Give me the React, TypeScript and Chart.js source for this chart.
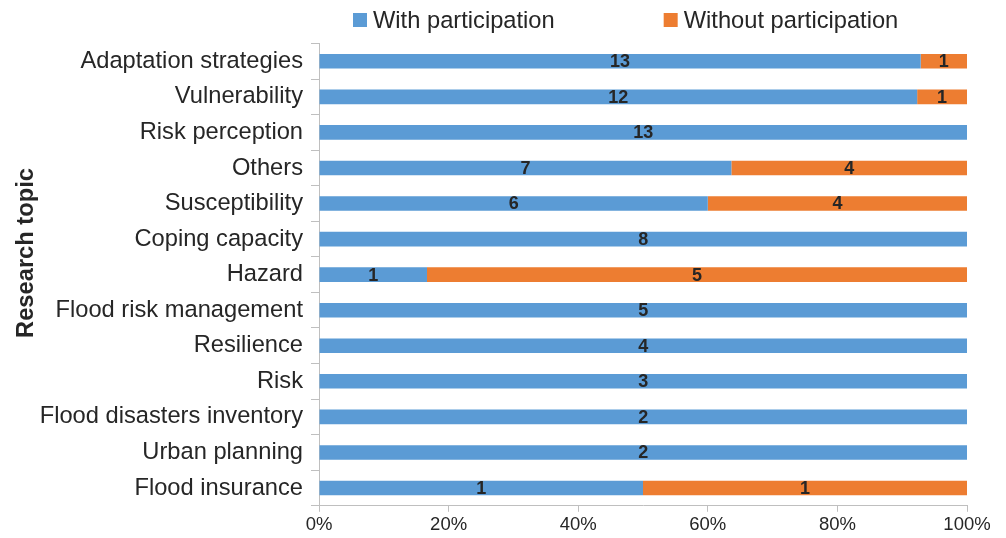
import { useEffect, useRef } from 'react';
import { Chart, registerables } from 'chart.js';

Chart.register(...registerables);

const categories = [
  'Adaptation strategies',
  'Vulnerability',
  'Risk perception',
  'Others',
  'Susceptibility',
  'Coping capacity',
  'Hazard',
  'Flood risk management',
  'Resilience',
  'Risk',
  'Flood disasters inventory',
  'Urban planning',
  'Flood insurance',
];
const withParticipation = [13, 12, 13, 7, 6, 8, 1, 5, 4, 3, 2, 2, 1];
const withoutParticipation = [1, 1, 0, 4, 4, 0, 5, 0, 0, 0, 0, 0, 1];
const seriesLabels = ['With participation', 'Without participation'];
const seriesColors = ['#5B9BD5', '#ED7D31'];
const xTicks = [0, 20, 40, 60, 80, 100];
const axisTitle = 'Research topic';

const FONT = "'Liberation Sans', Arial, Helvetica, sans-serif";
const TEXT = '#262626';
const AXIS = '#bfbfbf';

const totals = withParticipation.map((v, i) => v + withoutParticipation[i]);
const toPct = (arr: number[]) => arr.map((v, i) => (v / totals[i]) * 100);
const countsBySeries = [withParticipation, withoutParticipation];

const dataLabelPlugin = {
  id: 'dataLabels',
  afterDatasetsDraw(chart: any) {
    const ctx = chart.ctx;
    ctx.save();
    ctx.font = `bold 18px ${FONT}`;
    ctx.fillStyle = TEXT;
    ctx.textAlign = 'center';
    ctx.textBaseline = 'middle';
    chart.data.datasets.forEach((ds: any, di: number) => {
      const meta = chart.getDatasetMeta(di);
      meta.data.forEach((el: any, i: number) => {
        const count = countsBySeries[di][i];
        if (!count) return;
        const { x, base, y } = el.getProps(['x', 'base', 'y'], true);
        ctx.fillText(String(count), (x + base) / 2, y + 1);
      });
    });
    ctx.restore();
  },
};

const legendPlugin = {
  id: 'customLegend',
  afterDraw(chart: any) {
    const ctx = chart.ctx;
    const area = chart.chartArea;
    ctx.save();
    ctx.font = `23.7px ${FONT}`;
    ctx.textBaseline = 'middle';
    ctx.textAlign = 'left';
    let x = area.left + 34;
    const y = 20;
    chart.data.datasets.forEach((ds: any, i: number) => {
      ctx.fillStyle = ds.backgroundColor;
      ctx.fillRect(x, y - 7, 14, 14);
      ctx.fillStyle = TEXT;
      ctx.fillText(ds.label, x + 20, y + 1);
      x += 20 + ctx.measureText(ds.label).width + 109;
    });
    ctx.restore();
  },
};

const yTitlePlugin = {
  id: 'yTitle',
  afterDraw(chart: any) {
    const ctx = chart.ctx;
    ctx.save();
    ctx.font = `bold 23.7px ${FONT}`;
    ctx.fillStyle = TEXT;
    ctx.textAlign = 'center';
    ctx.textBaseline = 'middle';
    ctx.translate(26, 253);
    ctx.rotate(-Math.PI / 2);
    ctx.fillText(axisTitle, 0, 0);
    ctx.restore();
  },
};

export default function App() {
  const ref = useRef<HTMLCanvasElement>(null);
  useEffect(() => {
    document.body.style.margin = '0';
    const chart = new Chart(ref.current as HTMLCanvasElement, {
      type: 'bar',
      data: {
        labels: categories,
        datasets: [
          {
            label: seriesLabels[0],
            data: toPct(withParticipation),
            backgroundColor: seriesColors[0],
            categoryPercentage: 1,
            barPercentage: 0.41,
          },
          {
            label: seriesLabels[1],
            data: toPct(withoutParticipation),
            backgroundColor: seriesColors[1],
            categoryPercentage: 1,
            barPercentage: 0.41,
          },
        ],
      },
      options: {
        indexAxis: 'y',
        responsive: false,
        animation: false,
        layout: { padding: { top: 43.5, right: 39, bottom: 0, left: 0 } },
        plugins: {
          legend: { display: false },
          tooltip: { enabled: false },
        },
        scales: {
          x: {
            stacked: true,
            min: 0,
            max: 100,
            afterBuildTicks: (axis: any) => {
              axis.ticks = xTicks.map((v) => ({ value: v }));
            },
            ticks: {
              callback: (v: any) => `${v}%`,
              font: { family: FONT, size: 18.5 },
              color: TEXT,
              padding: 2,
              maxRotation: 0,
            },
            grid: {
              drawOnChartArea: false,
              drawTicks: true,
              tickLength: 6,
              color: AXIS,
            },
            border: { color: AXIS },
          },
          y: {
            stacked: true,
            afterFit: (scale: any) => {
              scale.width = 319;
            },
            ticks: {
              font: { family: FONT, size: 23.7 },
              color: TEXT,
              padding: 8,
              autoSkip: false,
            },
            grid: {
              offset: true,
              drawOnChartArea: false,
              drawTicks: true,
              tickLength: 8,
              color: AXIS,
            },
            border: { color: AXIS },
          },
        },
      },
      plugins: [dataLabelPlugin, legendPlugin, yTitlePlugin],
    } as any);
    return () => chart.destroy();
  }, []);
  return (
    <div style={{ position: 'absolute', left: 0, top: 0, width: 1006, height: 538 }}>
      <canvas ref={ref} width={1006} height={538} />
    </div>
  );
}
